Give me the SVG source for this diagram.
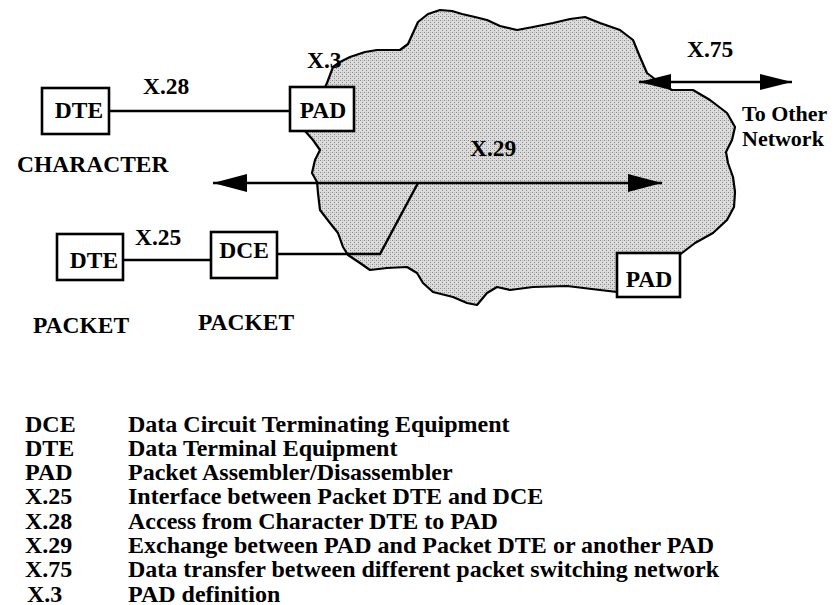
<svg xmlns="http://www.w3.org/2000/svg" width="839" height="605" viewBox="0 0 839 605">
<style>
text{font-family:"Liberation Serif","Times New Roman",serif;font-weight:bold;fill:#000}
.lbl{font-size:23.5px}
.sm{font-size:22px}
.leg{font-size:24px}
.box{fill:#fff;stroke:#000;stroke-width:2.6}
.btxt{font-size:23.5px;text-anchor:middle}
.wire{fill:none;stroke:#000;stroke-width:2.4}
.cloud{fill:url(#stip);stroke:#000;stroke-width:2.2;stroke-linejoin:round}
</style>
<defs>
<pattern id="stip" width="4" height="4" patternUnits="userSpaceOnUse">
<rect width="4" height="4" fill="#dcdcdc"/>
<rect x="0" y="0" width="1" height="1" fill="#8a8a8a"/>
<rect x="2" y="2" width="1" height="1" fill="#8a8a8a"/>
<rect x="2" y="0" width="1" height="1" fill="#b4b4b4"/>
</pattern>
<marker id="ah" viewBox="0 0 34 18" refX="34" refY="9" markerWidth="34" markerHeight="18" markerUnits="userSpaceOnUse" orient="auto-start-reverse">
<path d="M0,0 L34,9 L0,18 Z" fill="#000"/>
</marker>
<marker id="ahs" viewBox="0 0 32 16" refX="32" refY="8" markerWidth="32" markerHeight="16" markerUnits="userSpaceOnUse" orient="auto-start-reverse">
<path d="M0,0 L32,8 L0,16 Z" fill="#000"/>
</marker>
</defs>

<g id="network-cloud">
<path class="cloud" d="M305,131 L327,83 L333,67 L340,62 L350,57 L365,52 L377,50 L400,50 L408,44 L413,33 L418,22 L428,14 L440,10 L452,11 L462,14 L475,17 L487,20 L500,26 L517,30 L533,27 L553,23 L570,19 L585,17 L600,23 L620,30 L633,40 L640,57 L647,73 L660,83 L672,90 L693,90 L710,100 L727,113 L735,127 L732,140 L726,152 L728,163 L733,177 L735,192 L734,207 L727,220 L713,233 L695,243 L682,253 L660,270 L640,285 L617,292 L600,290 L567,286 L533,287 L510,290 L497,287 L487,293 L477,305 L467,303 L453,297 L433,292 L423,283 L417,273 L407,267 L387,268 L370,270 L360,263 L348,255 L343,247 L338,233 L330,223 L320,210 L318,193 L317,182 L312,173 L315,160 L320,150 L313,140 Z"/>
</g>

<g id="connectors">
<line class="wire" x1="109" y1="111" x2="290" y2="111"/>
<line class="wire" x1="123" y1="260" x2="211" y2="260"/>
<polyline class="wire" points="277,254 380,254 418,183"/>
<line class="wire" x1="213" y1="183" x2="662" y2="183" marker-start="url(#ah)" marker-end="url(#ah)"/>
<line class="wire" x1="639" y1="82" x2="792" y2="82" marker-start="url(#ahs)" marker-end="url(#ahs)"/>
</g>

<g id="dte-character">
<rect class="box" x="42" y="88" width="67" height="46"/>
<text class="btxt" x="79" y="118">DTE</text>
</g>
<g id="pad-1">
<rect class="box" x="290" y="87" width="64" height="44"/>
<text class="btxt" x="323" y="118">PAD</text>
</g>
<g id="dte-packet">
<rect class="box" x="57" y="234" width="66" height="46"/>
<text class="btxt" x="94" y="268">DTE</text>
</g>
<g id="dce">
<rect class="box" x="211" y="232" width="66" height="46"/>
<text class="btxt" x="244" y="258">DCE</text>
</g>
<g id="pad-2">
<rect class="box" x="617" y="253" width="63" height="44"/>
<text class="btxt" x="649" y="287">PAD</text>
</g>

<g id="labels">
<text class="lbl" x="307" y="68">X.3</text>
<text class="lbl" x="143" y="94">X.28</text>
<text class="lbl" x="135" y="245">X.25</text>
<text class="lbl" x="470" y="156">X.29</text>
<text class="lbl" x="687" y="57">X.75</text>
<text class="sm" x="742" y="121">To Other</text>
<text class="sm" x="742" y="146">Network</text>
<text class="lbl" x="17" y="172">CHARACTER</text>
<text class="lbl" x="33" y="333">PACKET</text>
<text class="lbl" x="198" y="330">PACKET</text>
</g>

<g id="legend">
<text class="leg" x="25" y="431.5">DCE</text><text class="leg" x="128" y="431.5">Data Circuit Terminating Equipment</text>
<text class="leg" x="25" y="455.8">DTE</text><text class="leg" x="128" y="455.8">Data Terminal Equipment</text>
<text class="leg" x="25" y="480.1">PAD</text><text class="leg" x="128" y="480.1">Packet Assembler/Disassembler</text>
<text class="leg" x="25" y="504.4">X.25</text><text class="leg" x="128" y="504.4">Interface between Packet DTE and DCE</text>
<text class="leg" x="25" y="528.7">X.28</text><text class="leg" x="128" y="528.7">Access from Character DTE to PAD</text>
<text class="leg" x="25" y="553">X.29</text><text class="leg" x="128" y="553">Exchange between PAD and Packet DTE or another PAD</text>
<text class="leg" x="25" y="577.3">X.75</text><text class="leg" x="128" y="577.3">Data transfer between different packet switching network</text>
<text class="leg" x="27" y="601.6">X.3</text><text class="leg" x="128" y="601.6">PAD definition</text>
</g>
</svg>
